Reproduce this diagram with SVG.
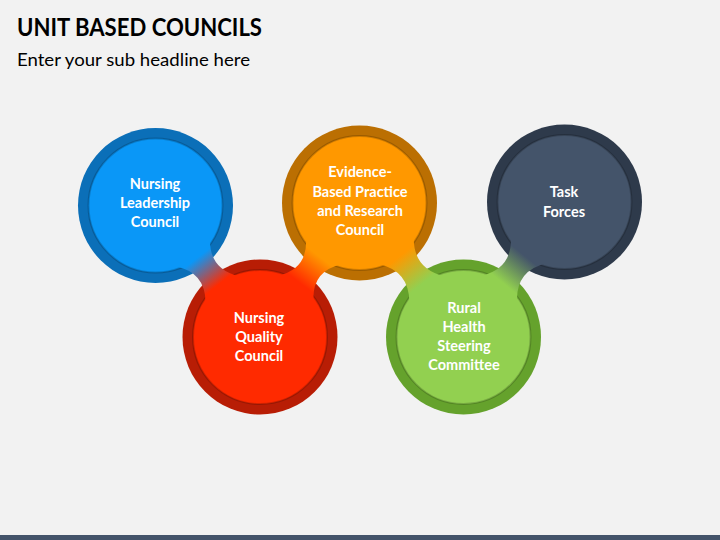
<svg xmlns="http://www.w3.org/2000/svg" width="720" height="540" viewBox="0 0 720 540">
<defs>
<style>
.title{font-family:Lato,"Liberation Sans",sans-serif;font-weight:bold;font-size:24px;fill:#000}
.sub{font-family:Lato,"Liberation Sans",sans-serif;font-size:18px;fill:#000}
.lbl{font-family:Lato,"Liberation Sans",sans-serif;font-weight:bold;font-size:14.5px;fill:#fff;text-anchor:middle}
.rim{stroke:#000;stroke-opacity:0.18;stroke-width:2}
</style>
<linearGradient id="g1" gradientUnits="userSpaceOnUse" x1="197" y1="258" x2="218" y2="285"><stop offset="0" stop-color="#0a97f7"/><stop offset="1" stop-color="#ff2a00"/></linearGradient>
<linearGradient id="g2" gradientUnits="userSpaceOnUse" x1="300" y1="283" x2="320" y2="257"><stop offset="0" stop-color="#ff2a00"/><stop offset="1" stop-color="#ff9800"/></linearGradient>
<linearGradient id="g3" gradientUnits="userSpaceOnUse" x1="400" y1="256" x2="422" y2="284"><stop offset="0" stop-color="#ff9800"/><stop offset="1" stop-color="#92d050"/></linearGradient>
<linearGradient id="g4" gradientUnits="userSpaceOnUse" x1="503" y1="283" x2="525" y2="256"><stop offset="0" stop-color="#92d050"/><stop offset="1" stop-color="#44546a"/></linearGradient>
</defs>
<rect width="720" height="540" fill="#f2f2f2"/>
<rect x="0" y="535" width="720" height="5" fill="#44546a"/>
<text class="title" x="17" y="36" textLength="245" lengthAdjust="spacingAndGlyphs">UNIT BASED COUNCILS</text>
<text class="sub" x="17" y="66" textLength="233" lengthAdjust="spacingAndGlyphs">Enter your sub headline here</text>

<g id="node-nursing-leadership">
<circle cx="155.5" cy="205.5" r="77.5" fill="#0b6fb8"/>
<circle class="rim" cx="155.5" cy="205.5" r="67" fill="#0a97f7"/>
<text class="lbl" x="155" y="189">Nursing</text>
<text class="lbl" x="155" y="208">Leadership</text>
<text class="lbl" x="155" y="227">Council</text>
</g>
<g id="node-nursing-quality">
<circle cx="260" cy="337" r="77.5" fill="#b81d05"/>
<circle class="rim" cx="260" cy="337" r="67" fill="#ff2a00"/>
<text class="lbl" x="259" y="323">Nursing</text>
<text class="lbl" x="259" y="342">Quality</text>
<text class="lbl" x="259" y="361">Council</text>
</g>
<g id="node-evidence-based">
<circle cx="359.5" cy="203" r="77.5" fill="#bb6f02"/>
<circle class="rim" cx="359.5" cy="203" r="67" fill="#ff9800"/>
<text class="lbl" x="360" y="177">Evidence-</text>
<text class="lbl" x="360" y="196.5">Based Practice</text>
<text class="lbl" x="360" y="215.5">and Research</text>
<text class="lbl" x="360" y="235">Council</text>
</g>
<g id="node-rural-health">
<circle cx="463.5" cy="337" r="77.5" fill="#65a22c"/>
<circle class="rim" cx="463.5" cy="337" r="67" fill="#92d050"/>
<text class="lbl" x="464" y="312.5">Rural</text>
<text class="lbl" x="464" y="331.5">Health</text>
<text class="lbl" x="464" y="350.5">Steering</text>
<text class="lbl" x="464" y="370">Committee</text>
</g>
<g id="node-task-forces">
<circle cx="564.5" cy="202" r="77.5" fill="#2e3a4b"/>
<circle class="rim" cx="564.5" cy="202" r="67" fill="#44546a"/>
<text class="lbl" x="564" y="197">Task</text>
<text class="lbl" x="564" y="216.5">Forces</text>
</g>

<g id="connectors">
<path d="M175.6,266.2 Q206.2,272.5 205.5,303.7 L239.9,276.3 Q209.3,270 210,238.8 Z" fill="url(#g1)"/>
<path d="M313.5,301.9 Q311.4,271.2 341.4,264.3 L306,238.1 Q308.1,268.8 278.1,275.7 Z" fill="url(#g2)"/>
<path d="M378.9,263.9 Q409.9,271.2 409.3,303.1 L444.1,276.1 Q413.1,268.8 413.7,236.9 Z" fill="url(#g3)"/>
<path d="M517,302.1 Q515.6,270.7 546.2,263.3 L511,236.9 Q512.4,268.3 481.8,275.7 Z" fill="url(#g4)"/>
</g>
</svg>
